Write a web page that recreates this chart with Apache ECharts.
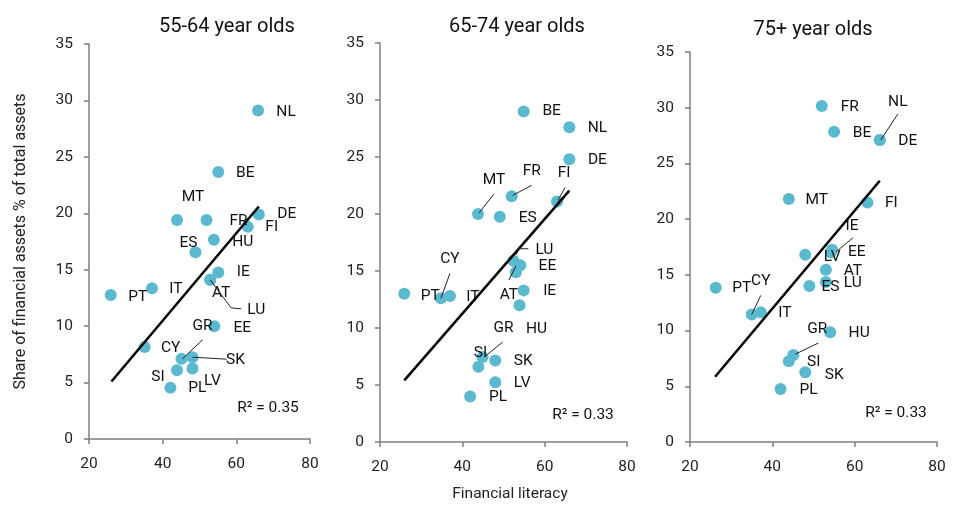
<!DOCTYPE html>
<html><head><meta charset="utf-8">
<script src="https://cdn.jsdelivr.net/npm/echarts@6/dist/echarts.min.js"></script>
<style>html,body{margin:0;padding:0;background:#fff}#c{width:955px;height:507px}</style>
</head><body><div id="c"></div>
<script>
// ---- data ----
const panelTitles = ['55-64 year olds', '65-74 year olds', '75+ year olds'];
const xTicks = [20, 40, 60, 80];
const yTicks = [0, 5, 10, 15, 20, 25, 30, 35];
const r2Labels = ['R² = 0.35', 'R² = 0.33', 'R² = 0.33'];

const countries1 = ['NL','BE','MT','FR','DE','FI','HU','ES','IE','AT','LU','PT','IT','EE','CY','GR','SK','SI','LV','PL'];
const literacy1  = [65.9,55.1,43.9,51.9,66.1,63.1,53.9,48.9,55.1,52.9,52.9,25.9,37.1,54.0,35.1,45.1,48.1,43.9,48.1,42.1];
const share1     = [29.1,23.65,19.4,19.4,19.9,18.8,17.65,16.55,14.75,14.1,14.1,12.75,13.35,10.0,8.15,7.1,7.25,6.1,6.25,4.55];

const countries2 = ['BE','NL','DE','FR','FI','MT','ES','LU','EE','AT','IE','HU','PT','CY','IT','GR','SI','SK','LV','PL'];
const literacy2  = [54.9,66.0,66.0,52.0,63.0,43.8,49.1,52.4,54.1,53.0,54.9,53.9,25.9,34.8,37.0,44.9,43.9,48.0,48.0,41.9];
const share2     = [29.0,27.6,24.8,21.55,21.1,20.0,19.75,15.9,15.5,14.9,13.3,12.0,13.0,12.6,12.8,7.45,6.6,7.15,5.25,4.0];

const countries3 = ['FR','BE','NL','DE','MT','FI','IE','EE','LV','AT','LU','ES','PT','CY','IT','HU','GR','SI','SK','PL'];
const literacy3  = [52.0,55.0,66.1,66.1,44.0,63.1,54.5,54.2,48.0,53.0,53.0,49.0,26.25,35.0,37.2,54.05,45.1,44.0,48.0,42.0];
const share3     = [30.15,27.85,27.1,27.1,21.8,21.5,17.25,17.0,16.8,15.45,14.35,14.0,13.85,11.45,11.65,9.85,7.8,7.25,6.25,4.75];

const trendX1 = [26.1, 66.1], trendY1 = [5.1, 20.6];
const trendX2 = [25.9, 66.0], trendY2 = [5.4, 22.05];
const trendX3 = [26.1, 66.1], trendY3 = [5.85, 23.45];

// ---- label placement (pixel offsets from point centre) ----
const labelOffsets = [
  {NL:[28,2],BE:[27,1],MT:[16,-23],FR:[32,1],DE:[28,0],FI:[24,0],HU:[29,2],ES:[-7,-9],IE:[25,0],AT:[11,13],LU:[46,30],PT:[27,2],IT:[24,1],EE:[28,2],CY:[26,1],GR:[21,-33],SK:[43,3],SI:[-19,7],LV:[20,13],PL:[27,0]},
  {BE:[28,0],NL:[28,1],DE:[28,1],FR:[20,-25],FI:[7,-28],MT:[16,-34],ES:[28,1],LU:[31,-11],EE:[27,1],AT:[-7,23],IE:[26,1],HU:[17,24],PT:[26,2],CY:[9,-39],IT:[23,1],GR:[21,-29],SI:[2,-14],SK:[28,1],LV:[27,1],PL:[28,1]},
  {FR:[28,1],BE:[28,1],NL:[18,-38],DE:[28,1],MT:[28,1],FI:[24,1],IE:[20,-24],EE:[26,0],LV:[27,2],AT:[27,1],LU:[27,1],ES:[21,1],PT:[26,0],CY:[9,-33],IT:[24,1],HU:[29,1],GR:[24,-26],SI:[25,1],SK:[29,3],PL:[28,1]}
];
const leaders = [
  {LU:[[0,0],[21,28],[31,29]], GR:[[21,-19],[1,0]], SK:[[0,0],[34,2]]},
  {FR:[[20,-11],[1,-1]], FI:[[8,-14],[1,-1]], MT:[[16,-20],[1,-1]], LU:[[15,-12],[5,-12],[3,-6]], AT:[[-7,8],[0,-6]], CY:[[9,-25],[0,0]], GR:[[20,-15],[3,-1]]},
  {NL:[[18,-26],[1,0]], IE:[[21,-12],[4,2]], CY:[[9,-19],[0,0]], GR:[[25,-12],[2,-1]]}
];

const panels = [
  {c: countries1, x: literacy1, y: share1, tx: trendX1, ty: trendY1},
  {c: countries2, x: literacy2, y: share2, tx: trendX2, ty: trendY2},
  {c: countries3, x: literacy3, y: share3, tx: trendX3, ty: trendY3}
];

const grids = [
  {left: 89, width: 221, top: 44, height: 395},
  {left: 380, width: 247, top: 43, height: 399},
  {left: 690, width: 247, top: 52, height: 390}
];
const titlePos = [[222, 12], [512, 12], [808, 15]];
const r2Pos = [[268, 408], [583, 415], [896, 413]];

const FONT = 'Roboto, "DejaVu Sans", sans-serif';
const dotColor = '#5ab9cf';
const axisGray = '#7f7f7f';
const TXT = 15.5;

const option = {
  animation: false,
  backgroundColor: '#fff',
  title: panelTitles.map((t, i) => ({
    text: t, left: titlePos[i][0], top: titlePos[i][1], textAlign: 'center',
    textStyle: {fontFamily: FONT, fontSize: 20, fontWeight: 'normal', color: '#111'}
  })),
  grid: grids.map(g => Object.assign({containLabel: false}, g)),
  xAxis: grids.map((g, i) => ({
    gridIndex: i, type: 'value', min: xTicks[0], max: xTicks[xTicks.length - 1], interval: 20,
    axisLine: {show: true, onZero: false, lineStyle: {color: axisGray, width: 1.5}},
    axisTick: {show: true, length: 5, lineStyle: {color: axisGray, width: 1.5}},
    axisLabel: {margin: 17, fontFamily: FONT, fontSize: TXT, color: '#222'},
    splitLine: {show: false}
  })),
  yAxis: grids.map((g, i) => ({
    gridIndex: i, type: 'value', min: yTicks[0], max: yTicks[yTicks.length - 1], interval: 5,
    axisLine: {show: true, onZero: false, lineStyle: {color: axisGray, width: 1.5}},
    axisTick: {show: true, length: 5, lineStyle: {color: axisGray, width: 1.5}},
    axisLabel: {margin: 16, fontFamily: FONT, fontSize: TXT, color: '#222'},
    splitLine: {show: false},
    name: i === 0 ? 'Share of financial assets % of total assets' : '',
    nameLocation: 'middle', nameGap: 60, nameRotate: 90,
    nameTextStyle: {fontFamily: FONT, fontSize: 16, color: '#222'}
  })),
  series: [],
  graphic: []
};

panels.forEach((p, i) => {
  option.series.push({
    type: 'scatter', xAxisIndex: i, yAxisIndex: i, z: 2,
    symbol: 'circle', symbolSize: 12,
    itemStyle: {color: dotColor, opacity: 1},
    data: p.c.map((name, k) => ({
      name: name, value: [p.x[k], p.y[k]],
      label: {show: true, formatter: name, position: 'inside', offset: labelOffsets[i][name] || [26, 0],
        fontFamily: FONT, fontSize: TXT, color: '#111'}
    }))
  });
  option.series.push({
    type: 'line', xAxisIndex: i, yAxisIndex: i, z: 3,
    symbol: 'none', lineStyle: {color: '#000', width: 2.5},
    data: p.tx.map((v, k) => [v, p.ty[k]])
  });
  option.graphic.push({
    type: 'text', x: r2Pos[i][0], y: r2Pos[i][1],
    style: {text: r2Labels[i], fontFamily: FONT, fontSize: TXT, fill: '#111', align: 'center', verticalAlign: 'middle'}
  });
});

option.graphic.push({
  type: 'text', x: 510, y: 494,
  style: {text: 'Financial literacy', fontFamily: FONT, fontSize: TXT, fill: '#222', align: 'center', verticalAlign: 'middle'}
});

const chart = echarts.init(document.getElementById('c'), null, {renderer: 'canvas'});
chart.setOption(option);

// leader lines for moved labels
const leaderGraphics = [];
panels.forEach((p, i) => {
  Object.keys(leaders[i]).forEach(name => {
    const k = p.c.indexOf(name);
    if (k < 0) return;
    const pt = chart.convertToPixel({gridIndex: i}, [p.x[k], p.y[k]]);
    const pts = leaders[i][name].map(o => [pt[0] + o[0], pt[1] + o[1]]);
    leaderGraphics.push({type: 'polyline', z: 10, shape: {points: pts}, style: {stroke: '#222', lineWidth: 1, fill: null}});
  });
});
chart.setOption({graphic: option.graphic.concat(leaderGraphics)});
</script></body></html>
